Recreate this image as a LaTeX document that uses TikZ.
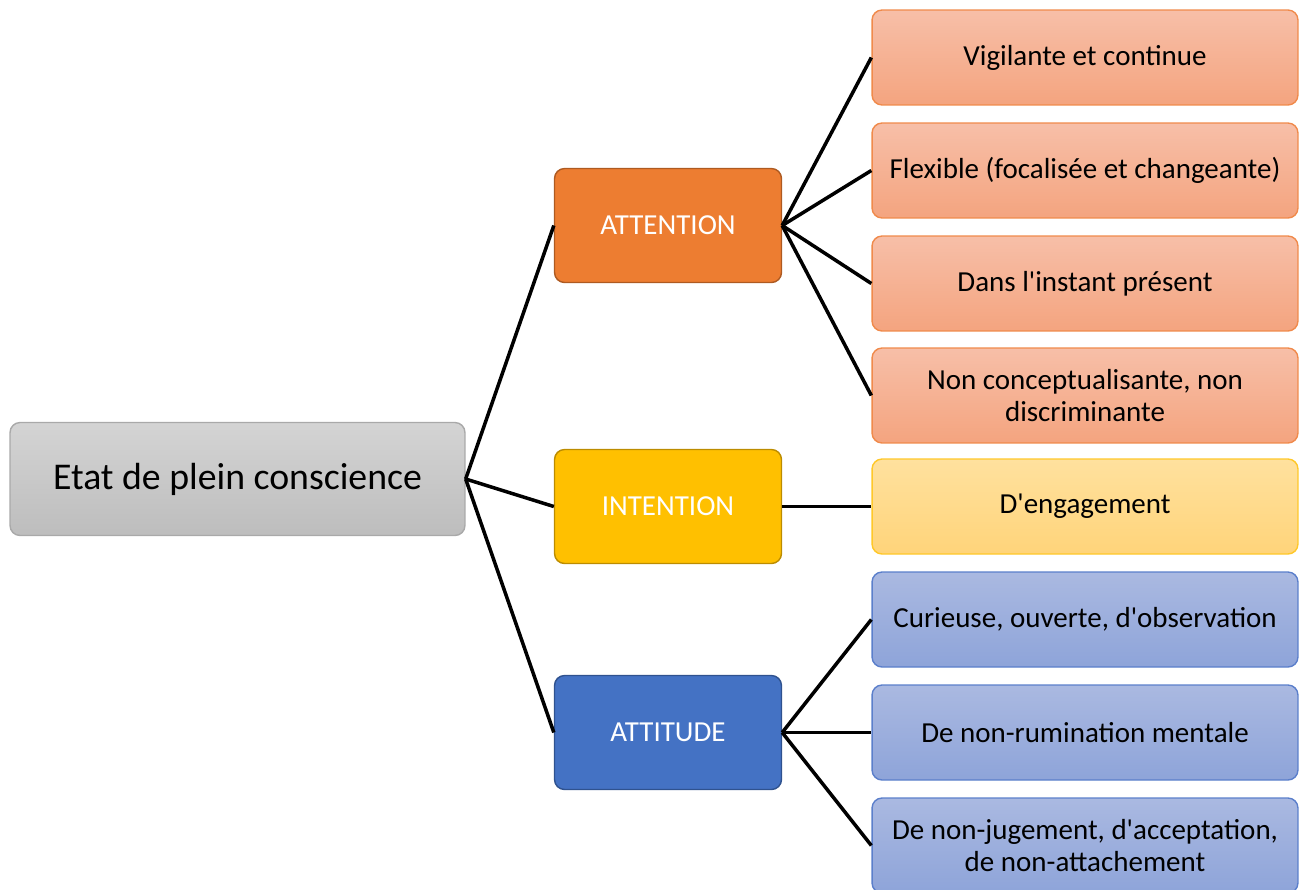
\documentclass[tikz,border=0pt]{standalone}
\usepackage{fontspec}
\setmainfont{Carlito}[Ligatures=TeXOff]
\usetikzlibrary{positioning}

\definecolor{grayTop}{HTML}{D4D4D4}
\definecolor{grayBot}{HTML}{BDBDBD}
\definecolor{grayLine}{HTML}{A9A9A9}
\definecolor{orangeMid}{HTML}{ED7D31}
\definecolor{orangeDark}{HTML}{AE5A21}
\definecolor{orangeTop}{HTML}{F7BFA8}
\definecolor{orangeBot}{HTML}{F4A47F}
\definecolor{orangeLine}{HTML}{F08A4B}
\definecolor{yellowMid}{HTML}{FFC000}
\definecolor{yellowDark}{HTML}{BC8C00}
\definecolor{yellowTop}{HTML}{FFE19E}
\definecolor{yellowBot}{HTML}{FFD47A}
\definecolor{yellowLine}{HTML}{FFC829}
\definecolor{blueMid}{HTML}{4472C4}
\definecolor{blueDark}{HTML}{2F528F}
\definecolor{blueTop}{HTML}{AAB9E1}
\definecolor{blueBot}{HTML}{8EA4D9}
\definecolor{blueLine}{HTML}{5B7FCB}

\begin{document}
\begin{tikzpicture}[x=0.02cm, y=-0.02cm,
    box/.style={rectangle, rounded corners=0.2cm, line width=0.8pt, align=center, inner sep=0pt},
    rootbox/.style={box, draw=grayLine, top color=grayTop, bottom color=grayBot,
        minimum width=9.1cm, minimum height=2.26cm, font=\fontsize{21.5}{25}\selectfont},
    midbox/.style={box, minimum width=4.54cm, minimum height=2.28cm, text=white,
        font=\fontsize{16.5}{19.5}\selectfont},
    leafbox/.style={box, minimum width=8.52cm, minimum height=1.9cm,
        font=\fontsize{16.5}{18.5}\selectfont},
    attleaf/.style={leafbox, draw=orangeLine, top color=orangeTop, bottom color=orangeBot},
    intleaf/.style={leafbox, draw=yellowLine, top color=yellowTop, bottom color=yellowBot},
    atdleaf/.style={leafbox, draw=blueLine, top color=blueTop, bottom color=blueBot},
    link/.style={line width=2pt, black}]

    \useasboundingbox (0,0) rectangle (1307,889);
    \clip (0,0) rectangle (1307,889);

    % root and the three branches
    \node[rootbox] (root) at (237.5,479) {Etat de plein conscience};
    \node[midbox, fill=orangeMid, draw=orangeDark] (att) at (668,225.5) {ATTENTION};
    \node[midbox, fill=yellowMid, draw=yellowDark] (int) at (668,506.5) {INTENTION};
    \node[midbox, fill=blueMid, draw=blueDark] (atd) at (668,732.5) {ATTITUDE};

    % leaves
    \node[attleaf] (a1) at (1085,57.5) {Vigilante et continue};
    \node[attleaf] (a2) at (1085,170.5) {Flexible (focalisée et changeante)};
    \node[attleaf] (a3) at (1085,283.5) {Dans l'instant présent};
    \node[attleaf] (a4) at (1085,395.5) {Non conceptualisante, non\\discriminante};
    \node[intleaf] (i1) at (1085,506.5) {D'engagement};
    \node[atdleaf] (d1) at (1085,619.5) {Curieuse, ouverte, d'observation};
    \node[atdleaf] (d2) at (1085,732.5) {De non-rumination mentale};
    \node[atdleaf] (d3) at (1085,845.5) {De non-jugement, d'acceptation,\\de non-attachement};

    \path[link] (root.east) edge (att.west);
    \path[link] (root.east) edge (int.west);
    \path[link] (root.east) edge (atd.west);

    \path[link] (att.east) edge (a1.west);
    \path[link] (att.east) edge (a2.west);
    \path[link] (att.east) edge (a3.west);
    \path[link] (att.east) edge (a4.west);
    \path[link] (int.east) edge (i1.west);
    \path[link] (atd.east) edge (d1.west);
    \path[link] (atd.east) edge (d2.west);
    \path[link] (atd.east) edge (d3.west);
\end{tikzpicture}
\end{document}
